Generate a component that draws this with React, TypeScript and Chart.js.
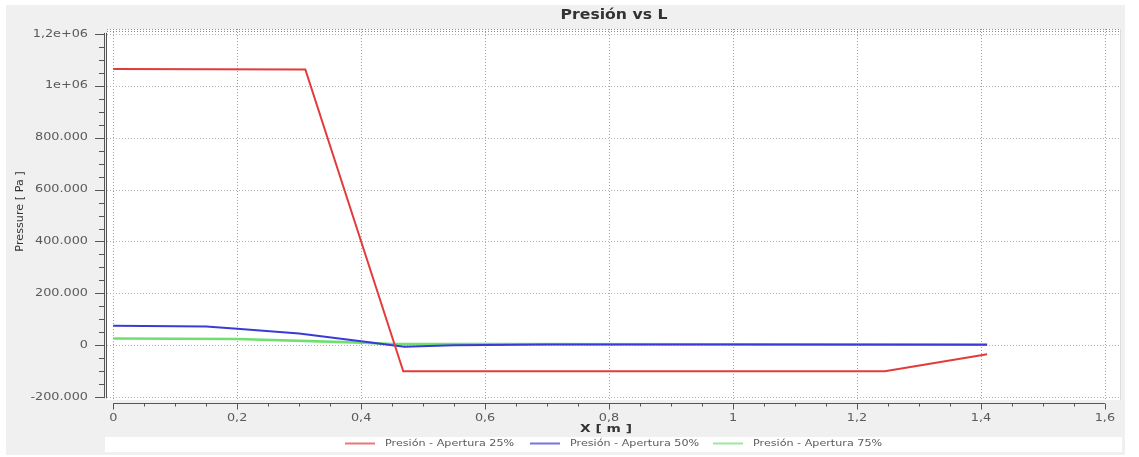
import React, { useEffect, useRef } from "react";
import { Chart, registerables } from "chart.js";

Chart.register(...registerables);

const chartTitle = "Presión vs L";
const xAxisTitle = "X [ m ]";
const yAxisTitle = "Pressure [ Pa ]";

const seriesLabels = ["Presión - Apertura 25%", "Presión - Apertura 50%", "Presión - Apertura 75%"];

const redX = [0, 0.31, 0.468, 1.245, 1.41];
const redY = [1065000, 1063000, -100000, -100000, -35000];

const blueX = [0, 0.15, 0.2, 0.3, 0.4, 0.45, 0.47, 0.55, 0.7, 1.0, 1.41];
const blueY = [75000, 72000, 64000, 45000, 15000, 0, -6000, 0, 3000, 3000, 2000];

const greenX = [0, 0.2, 0.4, 0.45, 0.6, 1.0, 1.41];
const greenY = [26000, 24000, 10000, 5000, 5000, 4000, 3000];

const xTickValues = [0, 0.2, 0.4, 0.6, 0.8, 1, 1.2, 1.4, 1.6];
const xTickLabels = ["0", "0,2", "0,4", "0,6", "0,8", "1", "1,2", "1,4", "1,6"];
const yTickValues = [1200000, 1000000, 800000, 600000, 400000, 200000, 0, -200000];
const yTickLabels = ["1,2e+06", "1e+06", "800.000", "600.000", "400.000", "200.000", "0", "-200.000"];
const xMinorStep = 0.05;
const yMinorStep = 50000;

const colors = ["#e23b3b", "#3a3ad8", "#6fe06f"];
const widths = [2, 2, 2.6];
const FONT = "'DejaVu Sans', sans-serif";

function pts(xs: number[], ys: number[]) {
  return xs.map((x, i) => ({ x, y: ys[i] }));
}

function stretchText(ctx: any, text: string, x: number, y: number, sx: number, align: string) {
  ctx.save();
  ctx.translate(x, y);
  ctx.scale(sx, 1);
  ctx.textAlign = align;
  ctx.fillText(text, 0, 0);
  ctx.restore();
}

const framePlugin = {
  id: "frame",
  beforeDraw(chart: any) {
    const { ctx, chartArea: a } = chart;
    ctx.save();
    ctx.fillStyle = "#ffffff";
    ctx.fillRect(0, 0, chart.width, chart.height);
    ctx.fillStyle = "#f0f0f0";
    ctx.fillRect(6, 5, 1119, 450);
    ctx.fillStyle = "#ffffff";
    ctx.fillRect(a.left, a.top, a.right - a.left, a.bottom - a.top);
    ctx.restore();
  },
  beforeDatasetsDraw(chart: any) {
    const { ctx, chartArea: a } = chart;
    const xs = chart.scales.x;
    const ys = chart.scales.y;
    ctx.save();
    ctx.lineWidth = 1;
    ctx.strokeStyle = "#a0a0a0";
    ctx.setLineDash([1, 2]);
    xTickValues.forEach((v) => {
      const px = Math.round(xs.getPixelForValue(v)) + 0.5;
      ctx.beginPath();
      ctx.moveTo(px, a.top);
      ctx.lineTo(px, a.bottom);
      ctx.stroke();
    });
    ctx.strokeStyle = "#b4b4b4";
    yTickValues.forEach((v) => {
      const py = Math.round(ys.getPixelForValue(v)) + 0.5;
      ctx.beginPath();
      ctx.moveTo(a.left, py);
      ctx.lineTo(a.right, py);
      ctx.stroke();
    });
    ctx.strokeStyle = "#8a8a8a";
    [a.top + 0.5, a.top + 2.5].forEach((py) => {
      ctx.beginPath();
      ctx.moveTo(a.left, py);
      ctx.lineTo(a.right, py);
      ctx.stroke();
    });
    ctx.setLineDash([]);
    ctx.strokeStyle = "#dddddd";
    ctx.beginPath();
    ctx.moveTo(a.right - 0.5, a.top);
    ctx.lineTo(a.right - 0.5, a.bottom);
    ctx.stroke();
    ctx.restore();
  },
  afterDraw(chart: any) {
    const { ctx, chartArea: a } = chart;
    const xs = chart.scales.x;
    const ys = chart.scales.y;
    ctx.save();
    const yTop = ys.getPixelForValue(1200000);
    const yBot = ys.getPixelForValue(-200000);
    ctx.strokeStyle = "#555555";
    ctx.lineWidth = 1;
    [104.5, 106.5].forEach((px) => {
      ctx.beginPath();
      ctx.moveTo(px, yTop - 1);
      ctx.lineTo(px, yBot + 1);
      ctx.stroke();
    });
    for (let v = -200000; v <= 1200000; v += yMinorStep) {
      const py = Math.round(ys.getPixelForValue(v)) + 0.5;
      const major = v % 200000 === 0;
      ctx.beginPath();
      ctx.moveTo(major ? 95 : 99, py);
      ctx.lineTo(104, py);
      ctx.stroke();
    }
    const xl = xs.getPixelForValue(0);
    const xr = xs.getPixelForValue(1.6);
    const axY = 403.5;
    ctx.beginPath();
    ctx.moveTo(xl, axY);
    ctx.lineTo(xr, axY);
    ctx.stroke();
    for (let i = 0; i <= Math.round(1.6 / xMinorStep); i++) {
      const v = i * xMinorStep;
      const px = Math.round(xs.getPixelForValue(v)) + 0.5;
      const major = i % 4 === 0;
      ctx.beginPath();
      ctx.moveTo(px, axY);
      ctx.lineTo(px, axY + (major ? 6 : 3));
      ctx.stroke();
    }
    ctx.fillStyle = "#5a5a5a";
    ctx.textBaseline = "middle";
    ctx.font = `10px ${FONT}`;
    yTickValues.forEach((v, i) => {
      stretchText(ctx, yTickLabels[i], 88, ys.getPixelForValue(v), 1.28, "right");
    });
    xTickValues.forEach((v, i) => {
      stretchText(ctx, xTickLabels[i], xs.getPixelForValue(v), 418, 1.28, "center");
    });
    ctx.fillStyle = "#333333";
    ctx.font = `bold 14px ${FONT}`;
    stretchText(ctx, chartTitle, (a.left + a.right) / 2, 15, 1.12, "center");
    ctx.font = `bold 11px ${FONT}`;
    stretchText(ctx, xAxisTitle, 606, 429, 1.25, "center");
    ctx.save();
    ctx.translate(20, (a.top + a.bottom) / 2 - 3);
    ctx.rotate(-Math.PI / 2);
    ctx.font = `10px ${FONT}`;
    stretchText(ctx, yAxisTitle, 0, 0, 1.12, "center");
    ctx.restore();
    ctx.fillStyle = "#ffffff";
    ctx.fillRect(105, 437, 1017, 15);
    const legX = [345, 530, 713];
    ctx.font = `9px ${FONT}`;
    chart.data.datasets.forEach((ds: any, i: number) => {
      ctx.strokeStyle = ds.borderColor;
      ctx.globalAlpha = 0.7;
      ctx.lineWidth = 2;
      ctx.beginPath();
      ctx.moveTo(legX[i], 443.5);
      ctx.lineTo(legX[i] + 30, 443.5);
      ctx.stroke();
      ctx.globalAlpha = 1;
      ctx.fillStyle = "#5a5a5a";
      stretchText(ctx, ds.label, legX[i] + 40, 444, 1.24, "left");
    });
    ctx.restore();
  },
};

export default function App() {
  const ref = useRef<HTMLCanvasElement>(null);
  useEffect(() => {
    if (!ref.current) return;
    const chart = new Chart(ref.current, {
      type: "line",
      data: {
        datasets: [
          { label: seriesLabels[0], data: pts(redX, redY), borderColor: colors[0], backgroundColor: colors[0], borderWidth: widths[0] },
          { label: seriesLabels[1], data: pts(blueX, blueY), borderColor: colors[1], backgroundColor: colors[1], borderWidth: widths[1] },
          { label: seriesLabels[2], data: pts(greenX, greenY), borderColor: colors[2], backgroundColor: colors[2], borderWidth: widths[2] },
        ].map((d) => ({ ...d, pointRadius: 0, tension: 0, fill: false })),
      },
      options: {
        responsive: false,
        animation: false,
        devicePixelRatio: 1,
        layout: { padding: { left: 7, top: 29, right: 18, bottom: 0 } },
        plugins: { legend: { display: false }, title: { display: false }, tooltip: { enabled: false } },
        scales: {
          x: {
            type: "linear",
            min: -0.01,
            max: 1.626,
            grid: { display: false, drawTicks: false },
            border: { display: false },
            ticks: { display: false },
            afterFit: (s: any) => { s.height = 57; },
          },
          y: {
            type: "linear",
            min: -211000,
            max: 1219000,
            grid: { display: false, drawTicks: false },
            border: { display: false },
            ticks: { display: false },
            afterFit: (s: any) => { s.width = 100; },
          },
        },
      },
      plugins: [framePlugin],
    } as any);
    return () => chart.destroy();
  }, []);
  return (
    <div style={{ position: "absolute", left: 0, top: 0, width: 1139, height: 457 }}>
      <canvas ref={ref} width={1139} height={457} style={{ display: "block" }} />
    </div>
  );
}
